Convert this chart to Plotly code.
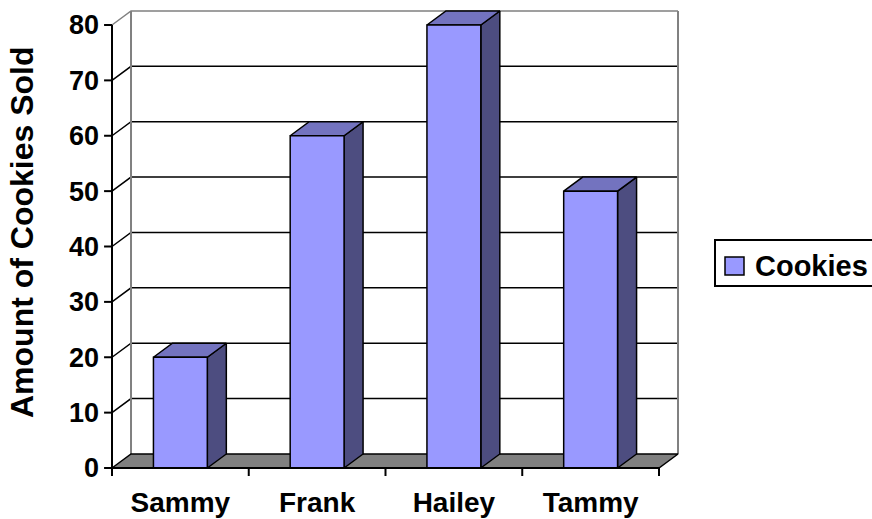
import plotly.graph_objects as go

# Chart data
names = ["Sammy", "Frank", "Hailey", "Tammy"]
cookies = [20, 60, 80, 50]
y_ticks = [0, 10, 20, 30, 40, 50, 60, 70, 80]
series_name = "Cookies"
y_title = "Amount of Cookies Sold"

# 3D look: depth offset of the back wall in data units, bar half width
DU = 0.139   # horizontal depth (category units)
DV = 2.53    # vertical depth (value units)
HW = 0.197   # half width of a bar front face
YMAX = 80

FRONT = "#9999FF"
TOP = "#7373BF"
SIDE = "#4D4D80"
WALL = "#808080"

FONT = dict(family="Liberation Sans, Arial, sans-serif", color="black", weight="bold")

fig = go.Figure()


def poly(xs, ys, fill, lc="black", lw=1.5):
    fig.add_trace(go.Scatter(
        x=list(xs) + [xs[0]], y=list(ys) + [ys[0]], mode="lines",
        fill="toself", fillcolor=fill, line=dict(color=lc, width=lw),
        hoverinfo="skip", showlegend=False))


def seg(xs, ys, color="black", width=1.5):
    fig.add_trace(go.Scatter(
        x=xs, y=ys, mode="lines", line=dict(color=color, width=width),
        hoverinfo="skip", showlegend=False))


x_left = -0.5
x_right = len(names) - 0.5

# back wall gridlines with their slanted links to the value axis
for v in y_ticks[1:]:
    c = WALL if v == YMAX else "black"
    seg([x_left, x_left + DU, x_right + DU], [v, v + DV, v + DV], color=c, width=1.5)

# back wall side edges
seg([x_left + DU, x_left + DU], [DV, YMAX + DV], color=WALL, width=2)
seg([x_right + DU, x_right + DU], [DV, YMAX + DV], color=WALL, width=2)

# floor
poly([x_left, x_right, x_right + DU, x_left + DU], [0, 0, DV, DV], WALL, lw=1.5)

# bars: side, top and front faces
for i, v in enumerate(cookies):
    x0, x1 = i - HW, i + HW
    poly([x1, x1 + DU, x1 + DU, x1], [0, DV, v + DV, v], SIDE)
    poly([x0, x1, x1 + DU, x0 + DU], [v, v, v + DV, v + DV], TOP)
    poly([x0, x1, x1, x0], [0, 0, v, v], FRONT)

# value axis line and tick marks
seg([x_left, x_left], [-1.45, YMAX], width=2)
for v in y_ticks:
    seg([x_left - 0.058, x_left], [v, v], width=2)

# category axis line and tick marks
seg([x_left, x_right], [0, 0], width=2)
for k in range(1, len(names) + 1):
    seg([k - 0.5, k - 0.5], [0, -1.45], width=2)

# plot area geometry (pixels)
L, R, T, B = 100, 690, 5, 485
W, H = 872, 519
px_u = 136.75   # pixels per category
px_v = 5.5375   # pixels per value unit
x0_px, y0_px = 112, 468


def u_of(px):
    return -0.5 + (px - x0_px) / px_u


def v_of(py):
    return (y0_px - py) / px_v


def paper_x(px):
    return (px - L) / (R - L)


def paper_y(py):
    return (B - py) / (B - T)


fig.update_layout(
    width=W, height=H,
    margin=dict(l=L, r=W - R, t=T, b=H - B, autoexpand=False),
    paper_bgcolor="white", plot_bgcolor="white",
    showlegend=False,
    xaxis=dict(range=[u_of(L), u_of(R)], tickvals=list(range(len(names))),
               ticktext=names, showgrid=False, zeroline=False, showline=False,
               ticks="", tickfont=dict(size=28, **FONT), ticklabelstandoff=-2,
               fixedrange=True),
    yaxis=dict(range=[v_of(B), v_of(T)], tickvals=y_ticks,
               showgrid=False, zeroline=False, showline=False,
               ticks="", tickfont=dict(size=27, **FONT), ticklabelstandoff=0,
               fixedrange=True),
    font=FONT,
)

# value axis title
fig.add_annotation(
    text=y_title, textangle=-90, xref="paper", yref="paper",
    x=paper_x(22), y=paper_y(232), xanchor="center", yanchor="middle",
    showarrow=False, font=dict(size=32, **FONT))

# legend box
fig.add_shape(type="rect", xref="paper", yref="paper",
              x0=paper_x(715), x1=paper_x(905), y0=paper_y(286), y1=paper_y(240),
              line=dict(color="black", width=2), fillcolor="white")
fig.add_shape(type="rect", xref="paper", yref="paper",
              x0=paper_x(725), x1=paper_x(744), y0=paper_y(275), y1=paper_y(257),
              line=dict(color="black", width=1.5), fillcolor=FRONT)
fig.add_annotation(
    text=series_name, xref="paper", yref="paper",
    x=paper_x(753), y=paper_y(266), xanchor="left", yanchor="middle",
    showarrow=False, font=dict(size=29, **FONT))

fig.write_html("out.html")
